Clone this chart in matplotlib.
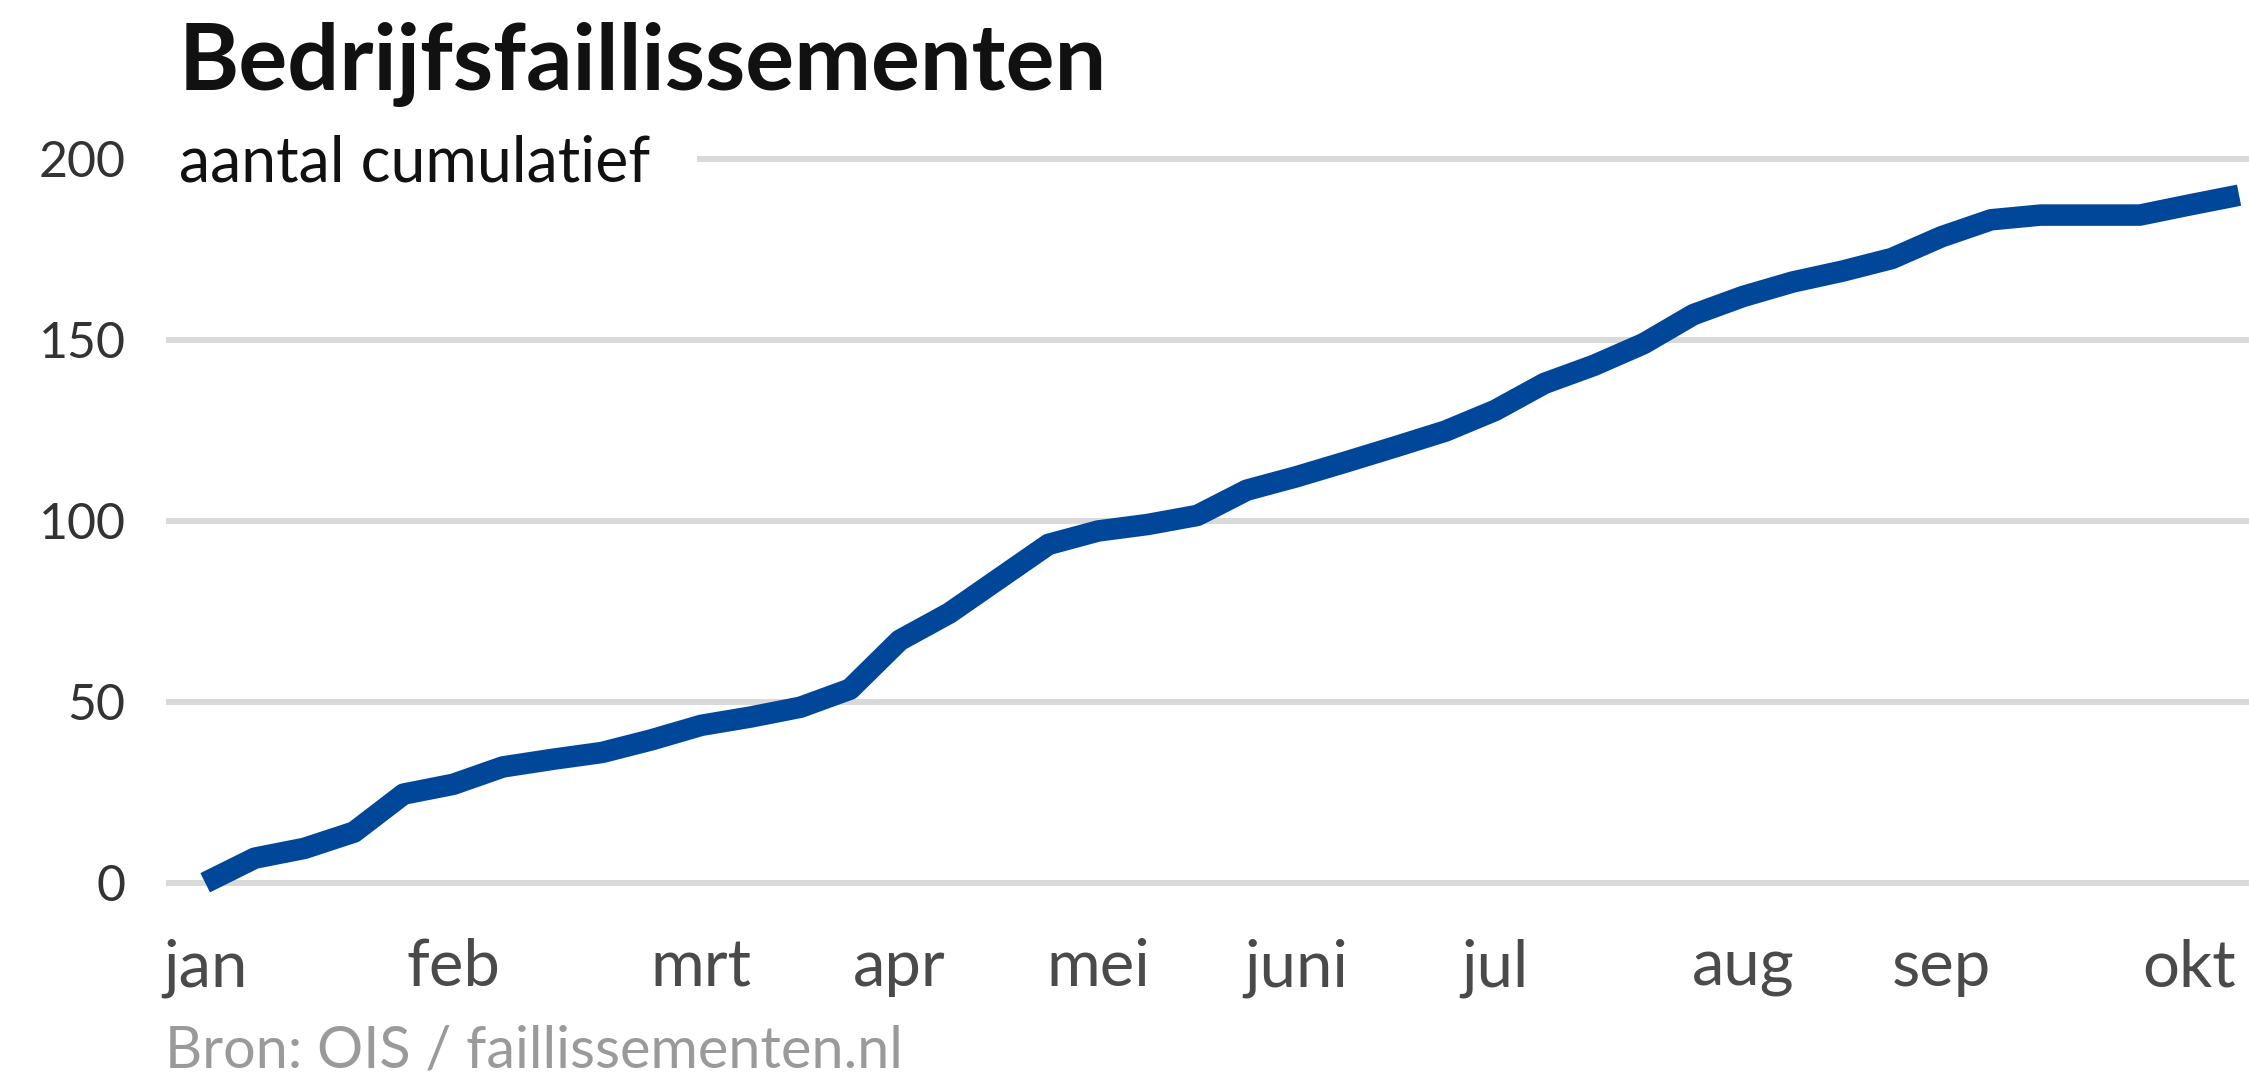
import matplotlib
matplotlib.use("Agg")
import matplotlib.pyplot as plt

"""
bedrijfsfaillissementen, cumulatief per week
"""

# data: weeks since 1 jan, cumulative count
WEEKS = list(range(42))
CUMULATIVE = [0, 6.8, 9.5, 14, 24.5, 27.2, 32, 34.1, 36, 39.5,
              43.5, 45.8, 48.5, 53.5, 67, 74.5, 84, 93.5, 97.2, 99,
              101.5, 108.5, 112.2, 116.3, 120.5, 124.8, 130.5, 138, 143, 149,
              157, 162, 166, 169, 172.5, 178.5, 183.2, 184.5, 184.5, 184.5,
              187.3, 190]

MONTH_WEEKS = [0, 5, 10, 14, 18, 22, 26, 31, 35, 40]
MONTHS = ["jan", "feb", "mrt", "apr", "mei", "juni", "jul", "aug", "sep", "okt"]
Y_TICKS = [0, 50, 100, 150, 200]

W, H = 2249, 1083

plt.rcParams["font.family"] = ["Lato", "DejaVu Sans"]

fig = plt.figure(figsize=(W / 100, H / 100), dpi=100)
ax = fig.add_axes([166 / W, 0.1515, 1 - 166 / W, 0.7184])

ax.plot(WEEKS, CUMULATIVE, color="#00479a", lw=15.5,
        solid_joinstyle="round", solid_capstyle="butt", zorder=3)

ax.set_xlim(-0.79, 41.2)
ax.set_ylim(-10, 205)
ax.set_yticks(Y_TICKS)
ax.set_xticks(MONTH_WEEKS, MONTHS)
ax.grid(axis="y", color="#d9d9d9", lw=4.3)
ax.grid(axis="x", visible=False)
ax.set_axisbelow(True)
for s in ax.spines.values():
    s.set_visible(False)
ax.tick_params(axis="both", length=0)
ax.tick_params(axis="y", pad=29, labelsize=36, labelcolor="#333333")
ax.tick_params(axis="x", pad=14, labelsize=47, labelcolor="#4a4a4a")

# subtitle sits on the 200 gridline, white box hides the line behind it
fig.text(179 / W, 1 - 181 / H, "aantal cumulatief", fontsize=45,
         color="#111111", va="baseline",
         bbox=dict(facecolor="white", edgecolor="none", boxstyle="square,pad=0.75"))
fig.text(179 / W, 1 - 90 / H, "Bedrijfsfaillissementen", fontsize=66,
         fontweight="bold", color="#111111", va="baseline")
fig.text(165 / W, 1 - 1067 / H, "Bron: OIS / faillissementen.nl", fontsize=41.5,
         color="#9a9a9a", va="baseline")

fig.savefig("out.png", dpi=100)
